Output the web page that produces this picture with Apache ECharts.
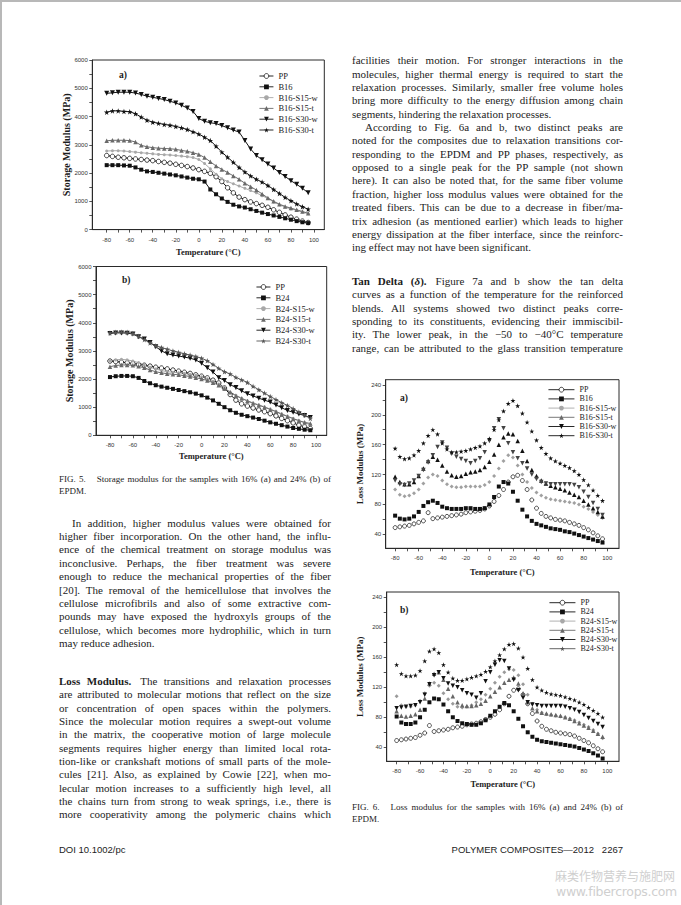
<!DOCTYPE html>
<html>
<head>
<meta charset="utf-8">
<script src="https://cdn.jsdelivr.net/npm/echarts@6/dist/echarts.min.js"></script>
<style>
html,body{margin:0;padding:0;background:#fff;}
#page{position:relative;width:681px;height:905px;overflow:hidden;background:#fff;}
#chart{position:absolute;left:0;top:0;width:681px;height:905px;}
.ln{position:absolute;font-family:"Liberation Serif","Times New Roman",serif;color:#1c1c1c;white-space:nowrap;}
.sans{font-family:"Liberation Sans",Arial,sans-serif;}
.bl{position:absolute;background:#b8b8b8;}
.wm{position:absolute;color:#cfcfcf;white-space:nowrap;}
</style>
</head>
<body>
<div id="page">
  <div id="chart"></div>
</div>
<script>
// ---------------- DATA ----------------
const tempStorage = [-80,-75,-70,-65,-60,-55,-50,-45,-40,-35,-30,-25,-20,-15,-10,-5,0,5,10,15,20,25,30,35,40,45,50,55,60,65,70,75,80,85,90,95];
const tempLoss = [-80,-76,-72,-68,-64,-60,-56,-52,-48,-44,-40,-36,-32,-28,-24,-20,-16,-12,-8,-4,0,4,8,12,16,20,24,28,32,36,40,44,48,52,56,60,64,68,72,76,80,84,88,92,96];

const tempTickLabels = [-80,-60,-40,-20,0,20,40,60,80,100];
const tempTicks = [-80,-70,-60,-50,-40,-30,-20,-10,0,10,20,30,40,50,60,70,80,90,100];
const storageTickLabels = [0,1000,2000,3000,4000,5000,6000];
const storageTicks = [0,500,1000,1500,2000,2500,3000,3500,4000,4500,5000,5500,6000];
const lossTickLabels = [40,80,120,160,200,240];
const lossTicks = [40,60,80,100,120,140,160,180,200,220,240];

// Fig 5a storage modulus, 16% EPDM (MPa)
const ppStorage16 = [2620,2590,2560,2540,2520,2500,2480,2460,2440,2410,2380,2350,2310,2270,2230,2180,2120,2060,1990,1870,1700,1480,1300,1150,1060,980,920,860,790,700,610,520,440,370,300,250];
const b16Storage = [2280,2280,2280,2270,2260,2200,2120,2060,2040,2010,1980,1950,1920,1880,1840,1800,1780,1700,1420,1250,1100,980,880,820,780,720,660,600,550,500,450,400,350,300,260,230];
const b16s15wStorage = [2780,2790,2790,2780,2760,2740,2720,2700,2680,2660,2650,2640,2620,2600,2580,2550,2480,2340,2150,1960,1800,1700,1620,1540,1460,1380,1300,1200,1100,980,880,800,730,680,620,560];
const b16s15tStorage = [3140,3160,3160,3160,3150,3100,2980,2930,2900,2880,2870,2860,2840,2800,2770,2720,2660,2550,2400,2250,2130,2020,1900,1780,1640,1520,1400,1260,1120,1000,900,820,760,700,640,580];
const b16s30wStorage = [4820,4840,4860,4860,4860,4830,4780,4720,4680,4640,4600,4540,4480,4400,4300,4180,3930,3830,3780,3750,3680,3600,3520,3450,3150,2850,2620,2470,2320,2180,2020,1880,1730,1600,1460,1300];
const b16s30tStorage = [4150,4200,4200,4180,4170,4100,3980,3870,3800,3760,3720,3690,3650,3600,3540,3460,3380,3270,3150,2950,2740,2560,2380,2200,2040,1900,1780,1680,1560,1420,1280,1140,1020,910,810,720];

// Fig 5b storage modulus, 24% EPDM (MPa)
const ppStorage24 = [2640,2620,2600,2580,2550,2520,2490,2460,2420,2390,2360,2320,2280,2240,2200,2150,2100,2040,1960,1860,1680,1450,1250,1120,1040,970,900,840,770,690,600,520,440,360,300,240];
const b24Storage = [2070,2100,2110,2110,2100,2040,1930,1850,1780,1730,1690,1650,1610,1570,1530,1480,1420,1340,1240,1120,1000,890,800,730,680,630,580,520,460,410,360,310,260,230,200,180];
const b24s15wStorage = [2650,2680,2700,2680,2640,2580,2500,2420,2360,2300,2260,2240,2220,2200,2170,2130,2080,2010,1920,1820,1680,1540,1420,1320,1230,1150,1080,1010,930,850,760,680,600,520,440,380];
const b24s15tStorage = [2440,2480,2500,2500,2490,2450,2400,2320,2260,2220,2190,2170,2150,2120,2090,2050,2000,1950,1870,1780,1660,1530,1410,1310,1220,1140,1070,1000,920,840,750,670,590,520,460,420];
const b24s30wStorage = [3620,3640,3640,3630,3600,3500,3420,3300,3150,3000,2900,2850,2820,2780,2740,2680,2560,2400,2250,2050,1950,1800,1700,1580,1480,1400,1320,1250,1180,1080,980,880,820,760,700,630];
const b24s30tStorage = [3640,3660,3670,3660,3620,3520,3400,3280,3180,3120,3060,3000,2950,2900,2850,2800,2740,2650,2520,2380,2260,2180,2060,1970,1880,1740,1620,1500,1380,1270,1160,1060,950,830,720,600];

// Fig 6a loss modulus, 16% EPDM (MPa)
const ppLoss16 = [49,50,51,52,54,56,58,69,61,62,63,64,65,66,67,69,70,71,72,74,78,84,92,100,110,117,119,112,100,86,75,68,64,62,60,59,58,56,54,52,49,46,42,38,34];
const b16Loss = [65,61,60,61,64,70,78,83,85,82,77,75,74,74,74,75,75,74,74,75,80,90,104,110,108,97,85,73,64,58,54,52,50,48,47,46,44,43,41,39,37,35,33,31,29];
const b16s15wLoss = [100,93,91,92,95,100,108,116,120,118,112,107,104,103,103,104,104,104,104,106,110,118,128,138,146,143,132,120,110,102,96,92,89,87,86,85,84,83,82,80,77,74,70,66,62];
const b16s15tLoss = [117,110,107,107,110,118,128,138,144,140,132,124,119,117,118,121,123,124,126,130,137,147,160,170,175,174,165,152,138,126,118,112,108,105,103,101,99,96,93,90,85,80,75,70,64];
const b16s30wLoss = [112,107,106,108,112,118,126,136,146,157,163,156,148,144,141,138,135,138,142,150,165,182,194,182,162,150,142,135,128,120,114,110,108,107,107,107,107,107,106,103,97,90,82,74,66];
const b16s30tLoss = [155,144,141,142,146,152,162,172,180,174,162,154,150,150,151,152,154,156,158,162,168,180,193,205,215,219,212,202,190,178,166,156,148,142,138,135,132,129,125,120,113,106,99,92,85];

// Fig 6b loss modulus, 24% EPDM (MPa)
const ppLoss24 = [49,50,51,52,53,56,59,69,61,62,63,64,66,67,68,70,71,72,74,77,80,84,90,98,108,116,118,110,98,85,75,68,64,62,60,59,58,57,55,52,49,46,42,38,34];
const b24Loss = [81,73,71,71,73,80,90,100,105,104,97,88,80,75,72,71,70,70,72,76,82,88,94,99,96,88,78,68,60,54,50,48,47,46,45,44,43,42,41,39,37,35,32,29,25];
const b24s15wLoss = [108,96,94,94,96,102,112,122,126,122,112,104,98,94,93,94,96,100,104,110,118,126,134,140,144,143,136,124,110,98,90,86,84,83,82,81,80,78,76,73,70,67,63,58,52];
const b24s15tLoss = [88,82,81,82,84,90,105,125,138,140,130,118,108,100,96,95,95,96,98,102,108,114,120,126,130,133,125,112,100,92,88,86,85,84,83,82,80,78,75,72,69,66,62,58,54];
const b24s30wLoss = [92,93,94,95,96,100,110,124,136,140,132,125,122,120,116,112,110,106,112,128,140,150,156,155,145,130,116,106,100,97,96,95,95,95,95,95,94,92,90,87,83,79,75,71,67];
const b24s30tLoss = [150,138,135,135,136,142,155,168,171,166,150,140,132,129,129,131,133,135,137,141,147,155,163,171,177,178,172,160,145,130,120,116,113,111,110,109,107,105,103,100,97,93,89,85,80];

const names16 = ['PP','B16','B16-S15-w','B16-S15-t','B16-S30-w','B16-S30-t'];
const names24 = ['PP','B24','B24-S15-w','B24-S15-t','B24-S30-w','B24-S30-t'];

// ---------------- TEXT ----------------
const fig5Caption = ['FIG. 5.<span style="display:inline-block;width:11px"></span>Storage modulus for the samples with 16% (a) and 24% (b) of','EPDM.'];
const fig6Caption = ['FIG. 6.<span style="display:inline-block;width:11px"></span>Loss modulus for the samples with 16% (a) and 24% (b) of','EPDM.'];
const paraInAddition = [
 'In addition, higher modulus values were obtained for',
 'higher fiber incorporation. On the other hand, the influ-',
 'ence of the chemical treatment on storage modulus was',
 'inconclusive. Perhaps, the fiber treatment was severe',
 'enough to reduce the mechanical properties of the fiber',
 '[20]. The removal of the hemicellulose that involves the',
 'cellulose microfibrils and also of some extractive com-',
 'pounds may have exposed the hydroxyls groups of the',
 'cellulose, which becomes more hydrophilic, which in turn',
 'may reduce adhesion.'];
const paraLoss = [
 '<b>Loss Modulus.</b><span style="display:inline-block;width:9px"></span>The transitions and relaxation processes',
 'are attributed to molecular motions that reflect on the size',
 'or concentration of open spaces within the polymers.',
 'Since the molecular motion requires a swept-out volume',
 'in the matrix, the cooperative motion of large molecule',
 'segments requires higher energy than limited local rota-',
 'tion-like or crankshaft motions of small parts of the mole-',
 'cules [21]. Also, as explained by Cowie [22], when mo-',
 'lecular motion increases to a sufficiently high level, all',
 'the chains turn from strong to weak springs, i.e., there is',
 'more cooperativity among the polymeric chains which'];
const paraFacilities = [
 'facilities their motion. For stronger interactions in the',
 'molecules, higher thermal energy is required to start the',
 'relaxation processes. Similarly, smaller free volume holes',
 'bring more difficulty to the energy diffusion among chain',
 'segments, hindering the relaxation processes.'];
const paraAccording = [
 'According to Fig. 6a and b, two distinct peaks are',
 'noted for the composites due to relaxation transitions cor-',
 'responding to the EPDM and PP phases, respectively, as',
 'opposed to a single peak for the PP sample (not shown',
 'here). It can also be noted that, for the same fiber volume',
 'fraction, higher loss modulus values were obtained for the',
 'treated fibers. This can be due to a decrease in fiber/ma-',
 'trix adhesion (as mentioned earlier) which leads to higher',
 'energy dissipation at the fiber interface, since the reinforc-',
 'ing effect may not have been significant.'];
const paraTan = [
 '<b>Tan Delta (<i>δ</i>).</b><span style="display:inline-block;width:9px"></span>Figure 7a and b show the tan delta',
 'curves as a function of the temperature for the reinforced',
 'blends. All systems showed two distinct peaks corre-',
 'sponding to its constituents, evidencing their immiscibil-',
 'ity. The lower peak, in the −50 to −40°C temperature',
 'range, can be attributed to the glass transition temperature'];

// ---------------- PAGE TEXT ----------------
const page = document.getElementById('page');
function addDiv(cls, css, html) {
  const d = document.createElement('div');
  d.className = cls; d.style.cssText = css; d.innerHTML = html;
  page.appendChild(d); return d;
}
function block(lines, x, y0, w, size, lh, opts) {
  opts = opts || {};
  lines.forEach((str, i) => {
    const indent = (i === 0 && opts.indent) ? opts.indent : 0;
    const yc = y0 + i * lh;
    const d = addDiv('ln', `left:${x + indent}px;top:${(yc - lh / 2).toFixed(2)}px;font-size:${size}px;line-height:${lh}px;height:${lh}px;`, '');
    const s = document.createElement('span');
    s.innerHTML = str;
    d.appendChild(s);
    const isLast = i === lines.length - 1;
    if (!(isLast && opts.lastLeft)) {
      const nat = s.getBoundingClientRect().width;
      const spaces = (s.textContent.match(/ /g) || []).length;
      if (spaces > 0) s.style.wordSpacing = ((w - indent - nat) / spaces).toFixed(3) + 'px';
    }
  });
}
// borders of the scanned page
addDiv('bl', 'left:0;top:0;width:681px;height:2px;', '');
addDiv('bl', 'left:0;top:0;width:2px;height:905px;', '');

block(fig5Caption, 59, 478.5, 272, 9, 12, {lastLeft: true});
block(paraInAddition, 59, 523.3, 272, 11, 13.4, {indent: 13, lastLeft: true});
block(paraLoss, 59, 681.7, 272, 11, 13.34, {});
block(paraFacilities, 352, 61, 271, 11, 13.35, {lastLeft: true});
block(paraAccording, 352, 61 + 5 * 13.35, 271, 11, 13.35, {indent: 13, lastLeft: true});
block(paraTan, 352, 281.5, 271, 11, 13.35, {});
block(fig6Caption, 352, 806.5, 271, 9, 12, {lastLeft: true});

addDiv('ln sans', 'left:59px;top:844px;font-size:9.5px;line-height:12px;', 'DOI 10.1002/pc');
addDiv('ln sans', 'left:423px;width:200px;text-align:right;top:844px;font-size:9.5px;line-height:12px;', 'POLYMER COMPOSITES—2012&nbsp;&nbsp;&nbsp;2267');
addDiv('wm', 'left:555px;top:869px;font-size:12px;line-height:14px;font-family:"Noto Sans CJK SC",sans-serif;', '麻类作物营养与施肥网');
addDiv('wm', 'left:556px;top:885px;font-size:12.5px;line-height:14px;font-family:"DejaVu Sans",sans-serif;letter-spacing:-0.3px;', 'www.fibercrops.com');

// ---------------- CHART ----------------
const STAR = 'path://M50,2 L61,36 L97,36 L68,57 L79,92 L50,71 L21,92 L32,57 L3,36 L39,36 Z';
const SERIF = '"Liberation Serif","Times New Roman",serif';
const SANS = '"Liberation Sans",Arial,sans-serif';
const AX = '#2a2a2a';
const plain = v => String(v);

const gridsDef = [
  {left: 92.3, top: 60, width: 232, height: 169.6, xmin: -92.5, xmax: 109, ymin: 0, ymax: 6000, yname: 'Storage Modulus (MPa)', xgap: 17.5, ygap: 20.5, yfs: 10, storage: true},
  {left: 96, top: 266.5, width: 230.7, height: 168.8, xmin: -92.2, xmax: 109.3, ymin: 0, ymax: 6000, yname: 'Storage Modulus (MPa)', xgap: 16.5, ygap: 21.5, yfs: 10, storage: true},
  {left: 385.7, top: 379.7, width: 233.3, height: 168.6, xmin: -88, xmax: 110, ymin: 21.3, ymax: 247, yname: 'Loss Modulus (MPa)', xgap: 19, ygap: 21.5, yfs: 9, storage: false},
  {left: 386.7, top: 592, width: 232.3, height: 169.3, xmin: -88.5, xmax: 110, ymin: 21.3, ymax: 247, yname: 'Loss Modulus (MPa)', xgap: 18.5, ygap: 22.5, yfs: 9, storage: false}
];

const grid = gridsDef.map(g => ({left: g.left, top: g.top, width: g.width, height: g.height, show: true, borderColor: AX, borderWidth: 1, backgroundColor: 'transparent', containLabel: false, outerBoundsMode: 'none'}));
const xAxis = gridsDef.map((g, i) => ({
  type: 'value', gridIndex: i, min: g.xmin, max: g.xmax,
  axisLine: {show: true, onZero: false, lineStyle: {color: AX, width: 1}},
  axisTick: {show: true, inside: false, length: 3, customValues: tempTicks, lineStyle: {color: AX, width: 0.8}},
  axisLabel: {customValues: tempTickLabels, formatter: plain, fontSize: 6, fontFamily: SANS, color: '#333', margin: 7},
  splitLine: {show: false},
  name: 'Temperature (°C)', nameLocation: 'middle', nameGap: g.xgap, nameMoveOverlap: false,
  nameTextStyle: {fontFamily: SERIF, fontWeight: 'bold', fontSize: 8.5, color: '#1c1c1c'}
}));
const yAxis = gridsDef.map((g, i) => ({
  type: 'value', gridIndex: i, min: g.ymin, max: g.ymax,
  axisLine: {show: true, onZero: false, lineStyle: {color: AX, width: 1}},
  axisTick: {show: true, inside: false, length: 3, customValues: g.storage ? storageTicks : lossTicks, lineStyle: {color: AX, width: 0.8}},
  axisLabel: {customValues: g.storage ? storageTickLabels : lossTickLabels, formatter: plain, fontSize: 6, fontFamily: SANS, color: '#333', margin: 4.5},
  splitLine: {show: false},
  name: g.yname, nameLocation: 'middle', nameRotate: 90, nameGap: g.ygap, nameMoveOverlap: false,
  nameTextStyle: {fontFamily: SERIF, fontWeight: 'bold', fontSize: g.yfs, color: '#1c1c1c'}
}));

function mk(name, gi, xs, ys, color, symbol, size, opt) {
  opt = opt || {};
  const hollow = symbol === 'hollow';
  return {
    type: 'line', name: name, xAxisIndex: gi, yAxisIndex: gi,
    data: xs.map((x, k) => [x, ys[k]]),
    symbol: hollow ? 'circle' : symbol, symbolSize: size, symbolRotate: opt.rotate || 0,
    showAllSymbol: true, smooth: false, animation: false, silent: true,
    lineStyle: {color: color, width: 1, opacity: opt.noLine ? 0 : 1},
    itemStyle: hollow ? {color: '#fff', borderColor: color, borderWidth: 0.8} : {color: color, borderWidth: 0},
    emphasis: {disabled: true}
  };
}

const series = [
  // 5a
  mk('PP', 0, tempStorage, ppStorage16, '#111', 'hollow', 4.5),
  mk('B16', 0, tempStorage, b16Storage, '#111', 'rect', 4),
  mk('B16-S15-w', 0, tempStorage, b16s15wStorage, '#a8a8a8', 'circle', 3),
  mk('B16-S15-t', 0, tempStorage, b16s15tStorage, '#6a6a6a', 'triangle', 4.5),
  mk('B16-S30-w', 0, tempStorage, b16s30wStorage, '#111', 'triangle', 5, {rotate: 180}),
  mk('B16-S30-t', 0, tempStorage, b16s30tStorage, '#111', STAR, 5.5),
  // 5b
  mk('PP', 1, tempStorage, ppStorage24, '#111', 'hollow', 4.5),
  mk('B24', 1, tempStorage, b24Storage, '#111', 'rect', 4),
  mk('B24-S15-w', 1, tempStorage, b24s15wStorage, '#a8a8a8', 'circle', 3),
  mk('B24-S15-t', 1, tempStorage, b24s15tStorage, '#6a6a6a', 'triangle', 4.5),
  mk('B24-S30-w', 1, tempStorage, b24s30wStorage, '#111', 'triangle', 5, {rotate: 180}),
  mk('B24-S30-t', 1, tempStorage, b24s30tStorage, '#555', STAR, 5.5),
  // 6a
  mk('PP', 2, tempLoss, ppLoss16, '#222', 'hollow', 4, {noLine: true}),
  mk('B16', 2, tempLoss, b16Loss, '#111', 'rect', 4, {noLine: true}),
  mk('B16-S15-w', 2, tempLoss, b16s15wLoss, '#a0a0a0', 'diamond', 4, {noLine: true}),
  mk('B16-S15-t', 2, tempLoss, b16s15tLoss, '#111', 'triangle', 4.5, {noLine: true}),
  mk('B16-S30-w', 2, tempLoss, b16s30wLoss, '#444', 'triangle', 4.5, {noLine: true, rotate: 180}),
  mk('B16-S30-t', 2, tempLoss, b16s30tLoss, '#111', STAR, 5, {noLine: true}),
  // 6b
  mk('PP', 3, tempLoss, ppLoss24, '#222', 'hollow', 4, {noLine: true}),
  mk('B24', 3, tempLoss, b24Loss, '#111', 'rect', 4, {noLine: true}),
  mk('B24-S15-w', 3, tempLoss, b24s15wLoss, '#9a9a9a', 'diamond', 4, {noLine: true}),
  mk('B24-S15-t', 3, tempLoss, b24s15tLoss, '#666', 'triangle', 4.5, {noLine: true}),
  mk('B24-S30-w', 3, tempLoss, b24s30wLoss, '#111', 'triangle', 4.5, {noLine: true, rotate: 180}),
  mk('B24-S30-t', 3, tempLoss, b24s30tLoss, '#111', STAR, 5, {noLine: true})
];

function leg(names, left, top, iw, fs, lh) {
  return {
    orient: 'vertical', left: left, top: top, padding: 0,
    itemWidth: iw, itemHeight: 6, itemGap: 0.8,
    data: names, selectedMode: false,
    lineStyle: {opacity: 1, width: 0.9},
    itemStyle: {borderWidth: 0.8},
    textStyle: {fontFamily: SERIF, fontSize: fs, color: '#1c1c1c', lineHeight: lh}
  };
}
const legend = [
  leg(names16, 259, 71, 14, 8.5, 10),
  leg(names24, 256, 282, 14, 8.5, 10),
  leg(names16, 548, 385.5, 26, 8, 8.4),
  leg(names24, 549, 598.5, 26, 8, 8.4)
];

const panelLabel = (t, x, y) => ({type: 'text', left: x, top: y, style: {text: t, font: 'bold 9.5px ' + SERIF, fill: '#1c1c1c'}});
const graphic = [
  panelLabel('a)', 119, 70),
  panelLabel('b)', 122, 275),
  panelLabel('a)', 400, 393),
  panelLabel('b)', 400, 605)
];

const chart = echarts.init(document.getElementById('chart'), null, {renderer: 'svg', width: 681, height: 905});
chart.setOption({
  animation: false,
  backgroundColor: 'transparent',
  grid: grid, xAxis: xAxis, yAxis: yAxis, series: series, legend: legend, graphic: graphic
});
</script>
</body>
</html>
